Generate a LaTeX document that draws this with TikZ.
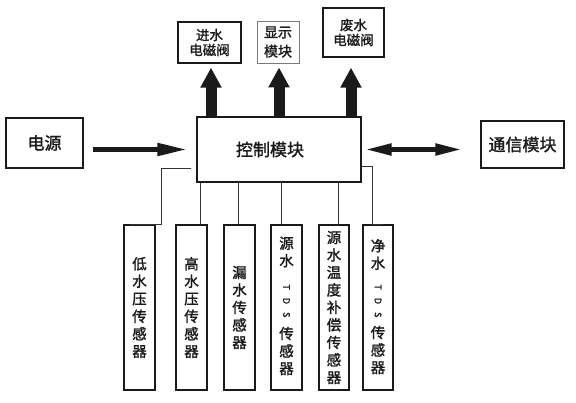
\documentclass[tikz,border=0pt]{standalone}
\usepackage{fontspec}
\usepackage{xcolor}
\usetikzlibrary{arrows.meta}
\newfontfamily\cjk{Noto Sans CJK SC}[FakeBold=1.6]
\definecolor{diagink}{HTML}{1A1A1A}
\definecolor{diagwire}{HTML}{333333}
\definecolor{diagmuted}{HTML}{7A7A7A}

\begin{document}
\begin{tikzpicture}[
  x=1pt,
  y=-1pt,
  box/.style={draw=diagink, line width=1.3pt, inner sep=0pt, text=diagink},
  bigbox/.style={box, font=\cjk\fontsize{17}{20}\selectfont},
  topbox/.style={box, align=center, font=\cjk\fontsize{13.5}{15}\selectfont},
  sensor/.style={box, minimum width=31pt, minimum height=165pt, align=center,
    font=\cjk\fontsize{14.5}{17.5}\selectfont},
  sensortext/.style={inner sep=0pt, align=center, text=diagink,
    font=\cjk\fontsize{14.5}{17.5}\selectfont},
  tdstext/.style={inner sep=0pt, rotate=-90, text=diagink,
    font=\cjk\fontsize{9}{9}\selectfont},
  wire/.style={draw=diagwire, line width=1pt},
  uparrow/.style={draw=diagink, line width=11pt, -{Triangle[length=20pt,width=20pt]}},
  sidearrow/.style={draw=diagink, line width=5pt, -{Triangle[length=30pt,width=12pt]}},
  bothway/.style={draw=diagink, line width=5pt,
    {Triangle[length=27pt,width=11pt]}-{Triangle[length=27pt,width=11pt]}}
]
  \useasboundingbox (0,0) rectangle (576,402);

  \node[bigbox, minimum width=77pt, minimum height=50pt] (power) at (44.5,143) {电源};
  \node[bigbox, minimum width=164pt, minimum height=65pt] (ctrl) at (279,149.5) {控制模块\hspace*{18pt}};
  \node[bigbox, minimum width=83pt, minimum height=47pt] (comm) at (522.5,144.5) {通信模块};

  \node[topbox, minimum width=63pt, minimum height=41pt] (inlet) at (209.5,42.5) {进水\\电磁阀};
  \node[topbox, draw=diagmuted, line width=0.9pt, minimum width=42pt, minimum height=42pt,
    font=\cjk\fontsize{14}{19}\selectfont] (display) at (278,42) {显示\\模块};
  \node[topbox, minimum width=61pt, minimum height=49pt] (waste) at (353.5,32.5) {废水\\电磁阀};

  \draw[uparrow, shorten >=4pt] ([xshift=1.5pt]inlet.south |- ctrl.north) -- ([xshift=1.5pt]inlet.south);
  \draw[uparrow, shorten >=4pt] ([xshift=1pt]display.south |- ctrl.north) -- ([xshift=1pt]display.south);
  \draw[uparrow, shorten >=10pt] ([xshift=-2.5pt]waste.south |- ctrl.north) -- ([xshift=-2.5pt]waste.south);

  \draw[sidearrow, shorten <=9pt, shorten >=9pt] (power.east |- ctrl.west) -- (ctrl.west);
  \draw[bothway, shorten <=3pt, shorten >=18pt] (ctrl.east) -- (ctrl.east -| comm.west);

  \node[sensor] (lowp) at (139.5,307.5) {低\\水\\压\\传\\感\\器};
  \node[sensor] (highp) at (191.5,307.5) {高\\水\\压\\传\\感\\器};
  \node[sensor] (leak) at (239.5,307.5) {漏\\水\\传\\感\\器};
  \node[sensor] (srctds) at (286.5,307.5) {};
  \node[sensor, minimum width=30pt] (srctemp) at (334,307.5) {源\\水\\温\\度\\补\\偿\\传\\感\\器};
  \node[sensor, minimum width=30pt] (puretds) at (378,307.5) {};

  \node[sensortext] (srctdstop) at (286.5,252) {源\\水};
  \node[tdstext] (srctdsmid) at (286.5,301) {T\hspace{8pt}D\hspace{8pt}S};
  \node[sensortext] (srctdsbot) at (286.5,351) {传\\感\\器};
  \node[sensortext] (puretdstop) at (378,254.5) {净\\水};
  \node[tdstext] (puretdsmid) at (378,301) {T\hspace{8pt}D\hspace{8pt}S};
  \node[sensortext] (puretdsbot) at (378,350) {传\\感\\器};

  \draw[wire] ([xshift=-5pt,yshift=14pt]ctrl.south west) -| ([xshift=21.5pt]lowp.north)
    -- ([xshift=-9.5pt]lowp.north);
  \draw[wire] ([xshift=8.5pt]highp.north) -- ([xshift=8.5pt]highp.north |- ctrl.south);
  \draw[wire] ([xshift=-1.5pt]leak.north) -- ([xshift=-1.5pt]leak.north |- ctrl.south);
  \draw[wire] ([xshift=-5.5pt]srctds.north) -- ([xshift=-5.5pt]srctds.north |- ctrl.south);
  \draw[wire] ([xshift=4pt]srctemp.north) -- ([xshift=4pt]srctemp.north |- ctrl.south);
  \draw[wire] ([yshift=16pt]ctrl.south east) -| ([xshift=-6pt]puretds.north)
    -- ([xshift=5pt]puretds.north);
\end{tikzpicture}
\end{document}
